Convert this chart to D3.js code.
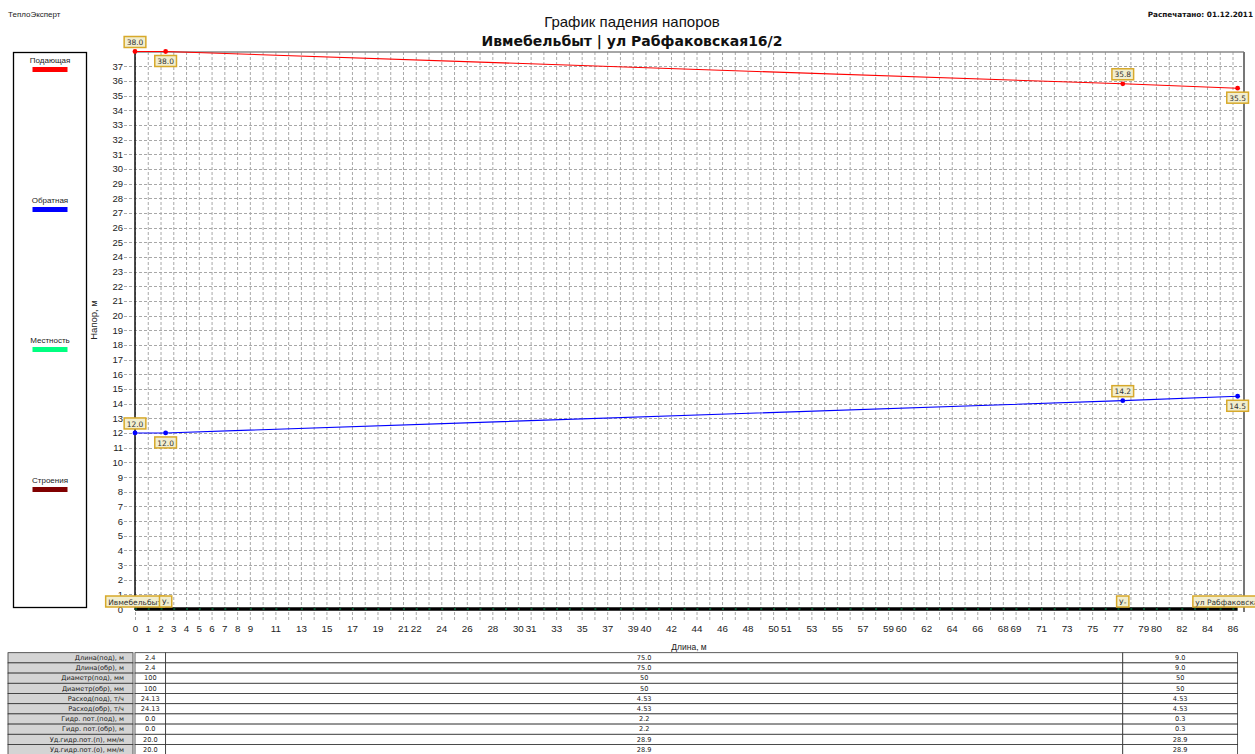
<!DOCTYPE html>
<html><head><meta charset="utf-8">
<script src="https://cdn.jsdelivr.net/npm/d3@7"></script>
<style>body{margin:0;background:#fff} svg{display:block}</style>
</head><body>
<svg id="c" width="1255" height="754"></svg>
<script>
// ---- data ----
const distances = [0, 2.4, 77.4, 86.4];
const supplyHead = [38.0, 38.0, 35.8, 35.5];
const returnHead = [12.0, 12.0, 14.2, 14.5];
const terrainHead = [0, 0, 0, 0];
const nodeNames = ["Ивмебельбыт", "У-", "У-", "ул Рабфаковская16/2"];
const xTickLabels = [0,1,2,3,4,5,6,7,8,9,11,13,15,17,19,21,22,24,26,28,30,31,33,35,37,39,40,42,44,46,48,50,51,53,55,57,59,60,62,64,66,68,69,71,73,75,77,79,80,82,84,86];
const yTickLabels = d3.range(0, 38);
const legendNames = ["Подающая", "Обратная", "Местность", "Строения"];
const tableRowNames = ["Длина(под), м","Длина(обр), м","Диаметр(под), мм","Диаметр(обр), мм","Расход(под), т/ч","Расход(обр), т/ч","Гидр. пот.(под), м","Гидр. пот.(обр), м","Уд.гидр.пот.(п), мм/м","Уд.гидр.пот.(о), мм/м"];
const segment1 = ["2.4","2.4","100","100","24.13","24.13","0.0","0.0","20.0","20.0"];
const segment2 = ["75.0","75.0","50","50","4.53","4.53","2.2","2.2","28.9","28.9"];
const segment3 = ["9.0","9.0","50","50","4.53","4.53","0.3","0.3","28.9","28.9"];

// ---- styles ----
const legendColors = {"Подающая":"#ff0000","Обратная":"#0000ff","Местность":"#00ff80","Строения":"#800000"};
const sans = "'Liberation Sans', Arial, sans-serif";
const tah = "'DejaVu Sans', sans-serif";

const svg = d3.select("#c");
const x = d3.scaleLinear().domain([0, 86.9]).range([135, 1244]);
const y = d3.scaleLinear().domain([0, 38]).range([609, 51.5]);

// header
svg.append("text").attr("x", 8).attr("y", 17).attr("font-family", sans).attr("font-size", 8).attr("fill", "#222").text("ТеплоЭксперт");
svg.append("text").attr("x", 1253).attr("y", 17).attr("text-anchor", "end").attr("font-family", tah).attr("font-weight", "bold").attr("font-size", 7.3).attr("fill", "#111").text("Распечатано: 01.12.2011");
svg.append("text").attr("x", 632).attr("y", 27).attr("text-anchor", "middle").attr("font-family", sans).attr("font-size", 15).attr("fill", "#111").text("График падения напоров");
svg.append("text").attr("x", 632).attr("y", 46).attr("text-anchor", "middle").attr("font-family", tah).attr("font-weight", "bold").attr("font-size", 14).attr("fill", "#111").text("Ивмебельбыт | ул Рабфаковская16/2");

// legend
svg.append("rect").attr("x", 13.5).attr("y", 52.5).attr("width", 73).attr("height", 555).attr("fill", "none").attr("stroke", "#000").attr("stroke-width", 1.3);
const lg = svg.append("g").selectAll("g").data(legendNames).join("g")
  .attr("transform", (d, i) => `translate(50,${63 + i * 140})`);
lg.append("text").attr("text-anchor", "middle").attr("font-family", sans).attr("font-size", 8).attr("fill", "#222").text(d => d);
lg.append("rect").attr("x", -17.5).attr("y", 4).attr("width", 35).attr("height", 5).attr("fill", d => legendColors[d]);

// grid
const grid = svg.append("g");
grid.selectAll("line.v").data(d3.range(0, 87)).join("line").attr("class", "v")
  .attr("x1", d => x(d) + 0.5).attr("x2", d => x(d) + 0.5).attr("y1", 52).attr("y2", 620)
  .attr("stroke", "#a8a8a8").attr("stroke-width", 1).attr("stroke-dasharray", "3,2");
grid.selectAll("line.h").data(d3.range(1, 38)).join("line").attr("class", "h")
  .attr("x1", 124).attr("x2", 1244).attr("y1", d => Math.round(y(d)) + 0.5).attr("y2", d => Math.round(y(d)) + 0.5)
  .attr("stroke", "#a8a8a8").attr("stroke-width", 1).attr("stroke-dasharray", "3,2");

// borders
svg.append("line").attr("x1", 135).attr("x2", 1244).attr("y1", 52).attr("y2", 52).attr("stroke", "#888").attr("stroke-width", 1.5);
svg.append("line").attr("x1", 1244).attr("x2", 1244).attr("y1", 52).attr("y2", 612).attr("stroke", "#777").attr("stroke-width", 2);

// y axis
const yAxis = svg.append("g").attr("transform", "translate(135,0)")
  .call(d3.axisLeft(y).tickValues(yTickLabels).tickSize(0).tickPadding(12).tickFormat(d3.format("d")));
yAxis.select(".domain").remove();
yAxis.selectAll("text").attr("font-family", sans).attr("font-size", 9.5).attr("fill", "#222");
svg.append("line").attr("x1", 135).attr("x2", 135).attr("y1", 51).attr("y2", 610).attr("stroke", "#111").attr("stroke-width", 1.5);

// x axis labels
const xAxis = svg.append("g").attr("transform", "translate(0,609)")
  .call(d3.axisBottom(x).tickValues(xTickLabels).tickSize(0).tickPadding(16).tickFormat(d3.format("d")));
xAxis.select(".domain").remove();
xAxis.selectAll("text").attr("font-family", sans).attr("font-size", 9.8).attr("fill", "#222");

svg.append("text").attr("transform", "translate(97,320) rotate(-90)").attr("text-anchor", "middle")
  .attr("font-family", sans).attr("font-size", 9.5).attr("fill", "#222").text("Напор, м");
svg.append("text").attr("x", 689).attr("y", 650).attr("text-anchor", "middle")
  .attr("font-family", sans).attr("font-size", 8.5).attr("fill", "#222").text("Длина, м");

// terrain / baseline
const line = (vals) => d3.line().x((d, i) => x(distances[i])).y(d => y(d))(vals);
svg.append("path").attr("d", line(terrainHead)).attr("fill", "none").attr("stroke", "#000").attr("stroke-width", 3.5);
svg.append("path").attr("d", line(terrainHead)).attr("fill", "none").attr("stroke", legendColors["Местность"]).attr("stroke-opacity", 0.6)
  .attr("stroke-width", 1).attr("stroke-dasharray", "2,10.76");

// series
function drawSeries(vals, color) {
  svg.append("path").attr("d", line(vals)).attr("fill", "none").attr("stroke", color).attr("stroke-width", 1.1);
  svg.append("g").selectAll("circle").data(vals).join("circle")
    .attr("cx", (d, i) => x(distances[i])).attr("cy", d => y(d)).attr("r", 2.4).attr("fill", color);
}
drawSeries(supplyHead, legendColors["Подающая"]);
drawSeries(returnHead, legendColors["Обратная"]);

function tag(cx, top, txt, fs) {
  const g = svg.append("g");
  const t = g.append("text").attr("x", cx).attr("y", top + 8.6).attr("text-anchor", "middle")
    .attr("font-family", tah).attr("font-size", fs).attr("fill", "#333").text(txt);
  const w = t.node().getComputedTextLength() + 5;
  g.insert("rect", "text").attr("x", cx - w / 2).attr("y", top).attr("width", w).attr("height", 11)
    .attr("fill", "#f2eecf").attr("stroke", "#d7a92a").attr("stroke-width", 1.5);
}
function valueTags(vals) {
  vals.forEach((v, i) => {
    const py = y(v), px = x(distances[i]);
    const top = i % 2 === 0 ? py - 15 : py + 4;
    tag(px, top, v.toFixed(1), 7.5);
  });
}
valueTags(supplyHead);
valueTags(returnHead);

// node names
nodeNames.forEach((n, i) => tag(x(distances[i]), 596, n, 7.5));

// table
const rowH = 10.2, top0 = 652.7;
const tbl = svg.append("g");
tableRowNames.forEach((name, r) => {
  const ty = top0 + r * rowH;
  tbl.append("rect").attr("x", 8).attr("y", ty).attr("width", 125).attr("height", rowH)
    .attr("fill", "#d4d4d4").attr("stroke", "#333").attr("stroke-width", 0.8);
  tbl.append("text").attr("x", 124).attr("y", ty + 7.2).attr("text-anchor", "end")
    .attr("font-family", tah).attr("font-size", 6.6).attr("fill", "#222").text(name);
  [segment1, segment2, segment3].forEach((seg, s) => {
    const x0 = x(distances[s]), x1 = x(distances[s + 1]);
    tbl.append("rect").attr("x", x0).attr("y", ty).attr("width", x1 - x0).attr("height", rowH)
      .attr("fill", "#fff").attr("stroke", "#333").attr("stroke-width", 0.8);
    tbl.append("text").attr("x", (x0 + x1) / 2).attr("y", ty + 7.2).attr("text-anchor", "middle")
      .attr("font-family", tah).attr("font-size", 6.6).attr("fill", "#222").text(seg[r]);
  });
});
</script>
</body></html>
